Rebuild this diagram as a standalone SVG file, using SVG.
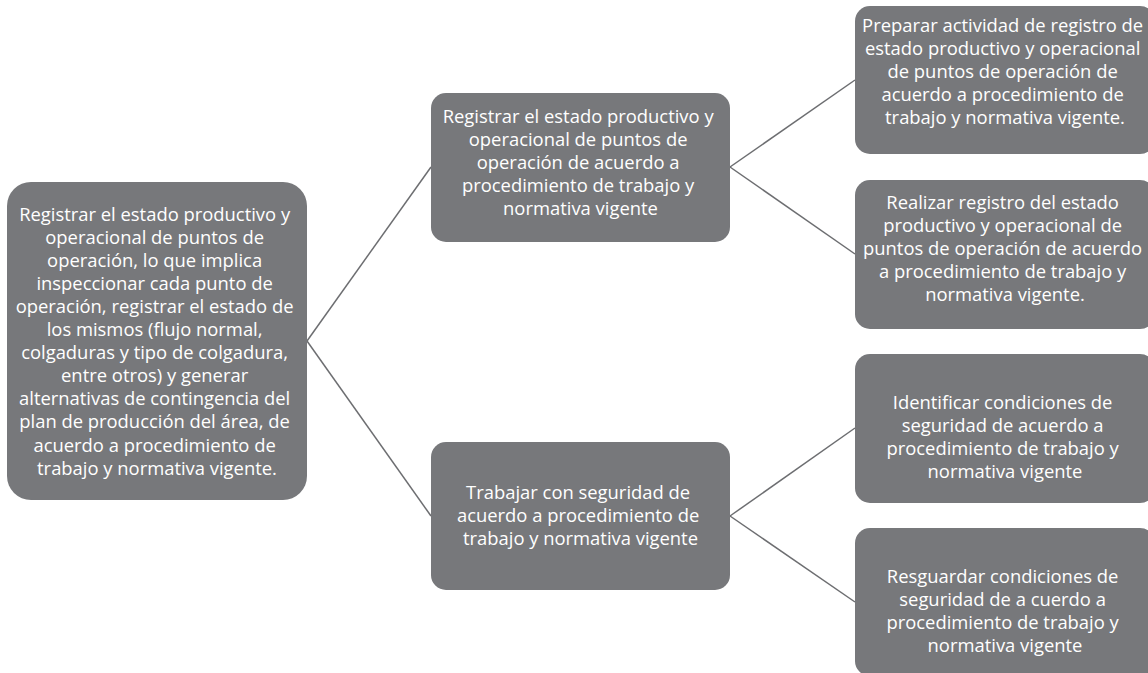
<svg xmlns="http://www.w3.org/2000/svg" width="1148" height="673" viewBox="0 0 1148 673">
<style>
.box{fill:#77787b;}
.t{font-family:"Open Sans","Liberation Sans",Arial,sans-serif;font-size:18.4px;fill:#ffffff;text-anchor:middle;}
.c{stroke:#6d6e71;stroke-width:1.5;fill:none;}
</style>
<rect width="1148" height="673" fill="#ffffff"/>
<g id="connectors">
<path class="c" d="M307 341 L431 167"/>
<path class="c" d="M307 341 L431 516"/>
<path class="c" d="M730 167 L855 80"/>
<path class="c" d="M730 167 L855 254"/>
<path class="c" d="M730 516 L855 428"/>
<path class="c" d="M730 516 L855 602"/>
</g>
<g id="root">
<rect class="box" x="7" y="182" width="300" height="318" rx="24"/>
<text class="t">
<tspan x="157" y="220.5">Registrar el estado productivo y</tspan>
<tspan x="157" y="243.6">operacional de puntos de</tspan>
<tspan x="157" y="266.7">operación, lo que implica</tspan>
<tspan x="157" y="289.8">inspeccionar cada punto de</tspan>
<tspan x="157" y="312.9">operación, registrar el estado de</tspan>
<tspan x="157" y="336">los mismos (flujo normal,</tspan>
<tspan x="157" y="359.1">colgaduras y tipo de colgadura,</tspan>
<tspan x="157" y="382.2">entre otros) y generar</tspan>
<tspan x="157" y="405.3">alternativas de contingencia del</tspan>
<tspan x="157" y="428.4">plan de producción del área, de</tspan>
<tspan x="157" y="451.5">acuerdo a procedimiento de</tspan>
<tspan x="157" y="474.6">trabajo y normativa vigente.</tspan>
</text>
</g>
<g id="mid1">
<rect class="box" x="431" y="93" width="299" height="149" rx="15"/>
<text class="t">
<tspan x="580.5" y="123">Registrar el estado productivo y</tspan>
<tspan x="580.5" y="146">operacional de puntos de</tspan>
<tspan x="580.5" y="169">operación de acuerdo a</tspan>
<tspan x="580.5" y="192">procedimiento de trabajo y</tspan>
<tspan x="580.5" y="215">normativa vigente</tspan>
</text>
</g>
<g id="mid2">
<rect class="box" x="431" y="442" width="299" height="148" rx="15"/>
<text class="t">
<tspan x="580.5" y="498.5">Trabajar con seguridad de</tspan>
<tspan x="580.5" y="521.5">acuerdo a procedimiento de</tspan>
<tspan x="580.5" y="544.5">trabajo y normativa vigente</tspan>
</text>
</g>
<g id="leaf1">
<rect class="box" x="855" y="6" width="300" height="148" rx="15"/>
<text class="t">
<tspan x="1005" y="31.5">Preparar actividad de registro de</tspan>
<tspan x="1005" y="54.5">estado productivo y operacional</tspan>
<tspan x="1005" y="77.5">de puntos de operación de</tspan>
<tspan x="1005" y="100.5">acuerdo a procedimiento de</tspan>
<tspan x="1005" y="123.5">trabajo y normativa vigente.</tspan>
</text>
</g>
<g id="leaf2">
<rect class="box" x="855" y="180" width="300" height="149" rx="15"/>
<text class="t">
<tspan x="1005" y="208.5">Realizar registro del estado</tspan>
<tspan x="1005" y="231.5">productivo y operacional de</tspan>
<tspan x="1005" y="254.5">puntos de operación de acuerdo</tspan>
<tspan x="1005" y="277.5">a procedimiento de trabajo y</tspan>
<tspan x="1005" y="300.5">normativa vigente.</tspan>
</text>
</g>
<g id="leaf3">
<rect class="box" x="855" y="354" width="300" height="149" rx="15"/>
<text class="t">
<tspan x="1005" y="408.5">Identificar condiciones de</tspan>
<tspan x="1005" y="431.5">seguridad de acuerdo a</tspan>
<tspan x="1005" y="454.5">procedimiento de trabajo y</tspan>
<tspan x="1005" y="477.5">normativa vigente</tspan>
</text>
</g>
<g id="leaf4">
<rect class="box" x="855" y="528" width="300" height="148" rx="15"/>
<text class="t">
<tspan x="1005" y="582.5">Resguardar condiciones de</tspan>
<tspan x="1005" y="605.5">seguridad de a cuerdo a</tspan>
<tspan x="1005" y="628.5">procedimiento de trabajo y</tspan>
<tspan x="1005" y="651.5">normativa vigente</tspan>
</text>
</g>
</svg>
